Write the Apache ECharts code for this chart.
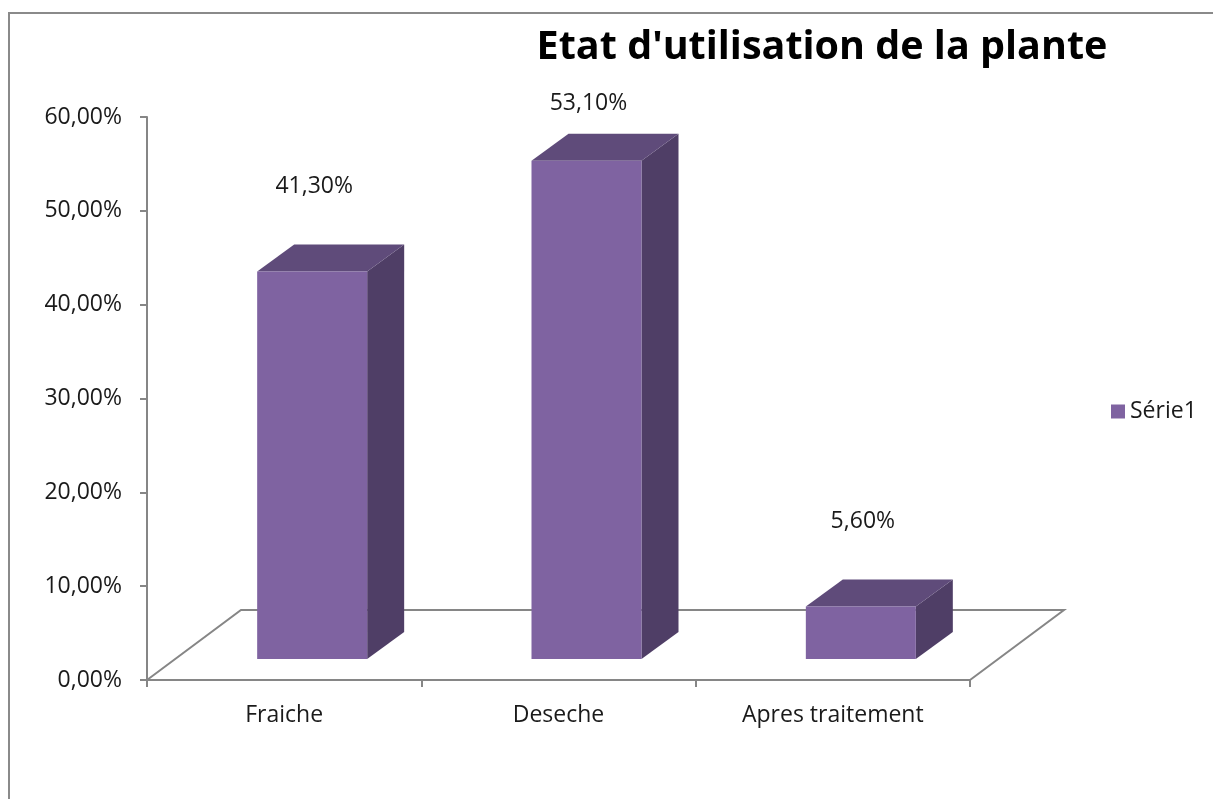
<!DOCTYPE html>
<html>
<head>
<meta charset="utf-8">
<script src="https://cdn.jsdelivr.net/npm/echarts@6/dist/echarts.min.js"></script>
<style>
  html, body { margin: 0; padding: 0; background: #ffffff; }
  #chart { width: 1213px; height: 799px; }
</style>
</head>
<body>
<div id="chart"></div>
<script>
// Usage state of the plant, share of responses (%)
const categories = ['Fraiche', 'Deseche', 'Apres traitement'];
const values = [41.3, 53.1, 5.6];
const seriesName = 'Série1';
const yTicks = { min: 0, max: 60, interval: 10 };

const FRONT = '#7F63A1';
const TOP = '#5F4B7A';
const SIDE = '#4F3E66';
const AXIS = '#868686';
const TEXT = '#1a1a1a';
const FONT = '"Open Sans", sans-serif';
const FS = 23;

// Pseudo-3D geometry (pixels)
const FLOOR_DX = 94, FLOOR_DY = -70;   // depth of the floor plane
const BAR_DX = 28, BAR_DY = -21;       // bar front face offset into depth
const DEPTH_DX = 37, DEPTH_DY = -27;   // bar depth
const BAR_W = 110;

function fmtPct(v) {
  return v.toFixed(2).replace('.', ',') + '%';
}

const chart = echarts.init(document.getElementById('chart'));

function renderFloor(params, api) {
  const cs = params.coordSys;
  const x0 = cs.x, x1 = cs.x + cs.width, y0 = cs.y + cs.height;
  return {
    type: 'polyline',
    shape: {
      points: [
        [x0, y0],
        [x0 + FLOOR_DX, y0 + FLOOR_DY],
        [x1 + FLOOR_DX, y0 + FLOOR_DY],
        [x1, y0]
      ]
    },
    style: { stroke: AXIS, lineWidth: 2, fill: null },
    silent: true
  };
}

function renderBar(params, api) {
  const idx = api.value(0);
  const val = api.value(1);
  const base = api.coord([idx, 0]);
  const top = api.coord([idx, val]);
  const cx = base[0] + BAR_DX;
  const xl = cx - BAR_W / 2, xr = cx + BAR_W / 2;
  const yb = base[1] + BAR_DY, yt = top[1] + BAR_DY;
  const cs = params.coordSys;
  const labelY = Math.max(yt - 85, cs.y - 14);
  return {
    type: 'group',
    children: [
      {
        type: 'polygon',
        shape: { points: [[xr, yb], [xr + DEPTH_DX, yb + DEPTH_DY], [xr + DEPTH_DX, yt + DEPTH_DY], [xr, yt]] },
        style: { fill: SIDE }
      },
      {
        type: 'polygon',
        shape: { points: [[xl, yt], [xr, yt], [xr + DEPTH_DX, yt + DEPTH_DY], [xl + DEPTH_DX, yt + DEPTH_DY]] },
        style: { fill: TOP }
      },
      {
        type: 'rect',
        shape: { x: xl, y: yt, width: BAR_W, height: yb - yt },
        style: { fill: FRONT }
      },
      {
        type: 'text',
        x: cx + 2,
        y: labelY,
        style: {
          text: fmtPct(val),
          fill: TEXT,
          font: FS + 'px ' + FONT,
          align: 'center',
          verticalAlign: 'middle'
        }
      }
    ]
  };
}

chart.setOption({
  animation: false,
  backgroundColor: '#ffffff',
  graphic: [
    {
      type: 'polyline',
      shape: { points: [[9, 805], [9, 13], [1220, 13]] },
      style: { stroke: '#8a8a8a', lineWidth: 2, fill: null },
      silent: true
    }
  ],
  title: {
    text: "Etat d'utilisation de la plante",
    left: 817,
    top: 23,
    textAlign: 'center',
    textStyle: {
      fontFamily: FONT,
      fontWeight: 'bold',
      fontSize: 39.5,
      color: '#000000'
    }
  },
  legend: {
    data: [seriesName],
    left: 1106,
    top: 395,
    icon: 'rect',
    itemWidth: 14,
    itemHeight: 14,
    itemGap: 8,
    textStyle: { fontFamily: FONT, fontSize: FS, color: TEXT }
  },
  grid: { left: 147, right: 243, top: 117, bottom: 119, containLabel: false },
  xAxis: {
    type: 'category',
    data: categories,
    boundaryGap: true,
    axisLine: { lineStyle: { color: AXIS, width: 2 } },
    axisTick: { show: true, length: 7, alignWithLabel: false, lineStyle: { color: AXIS, width: 2 } },
    axisLabel: { margin: 24, fontFamily: FONT, fontSize: FS, color: TEXT },
    splitLine: { show: false }
  },
  yAxis: {
    type: 'value',
    min: yTicks.min,
    max: yTicks.max,
    interval: yTicks.interval,
    axisLine: { show: true, lineStyle: { color: AXIS, width: 2 } },
    axisTick: { show: true, length: 7, lineStyle: { color: AXIS, width: 2 } },
    axisLabel: {
      margin: 25,
      fontFamily: FONT,
      fontSize: FS,
      color: TEXT,
      formatter: fmtPct
    },
    splitLine: { show: false }
  },
  series: [
    {
      type: 'custom',
      name: 'floor',
      renderItem: renderFloor,
      data: [[0, 0]],
      z: 1,
      silent: true
    },
    {
      type: 'custom',
      name: seriesName,
      itemStyle: { color: FRONT },
      renderItem: renderBar,
      data: values.map((v, i) => [i, v]),
      encode: { x: 0, y: 1 },
      z: 2
    }
  ]
});
</script>
</body>
</html>
